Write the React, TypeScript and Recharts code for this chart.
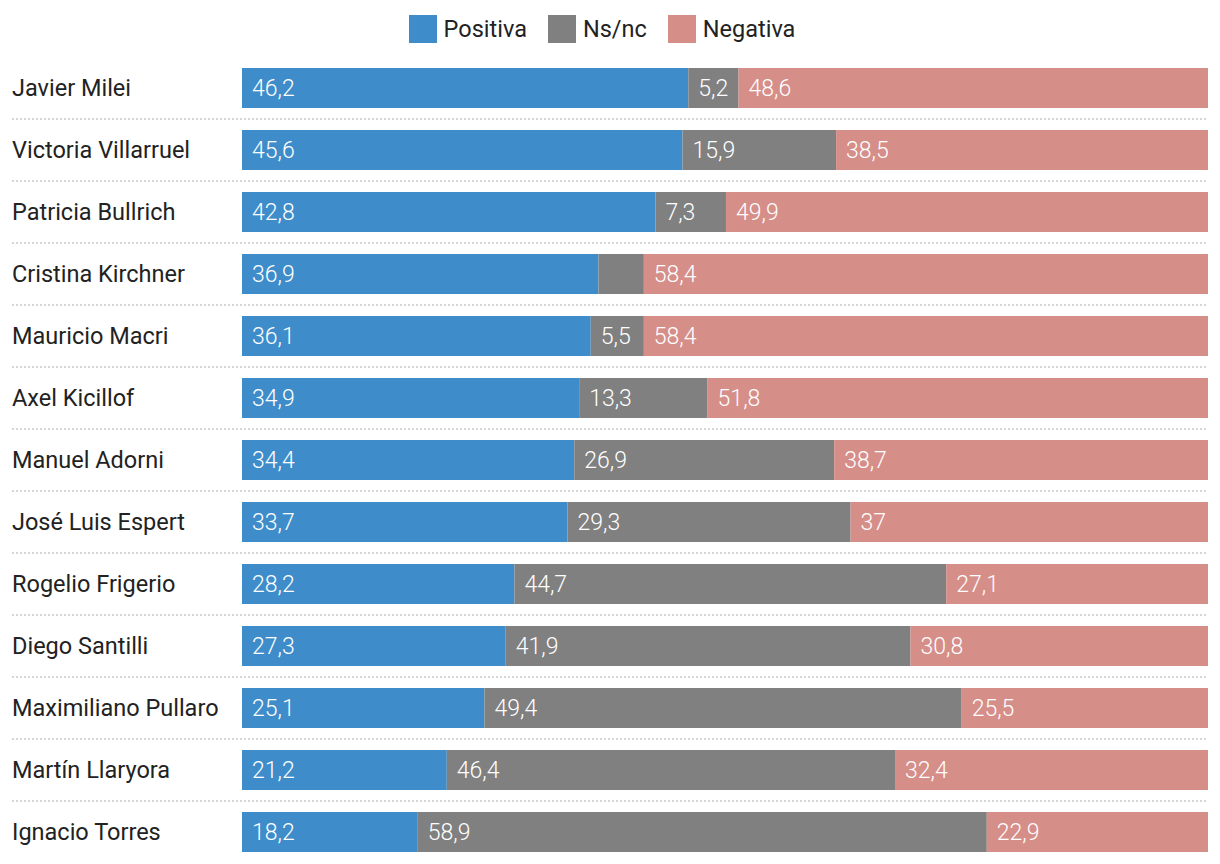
import { BarChart, Bar, XAxis, YAxis, Legend, LabelList } from 'recharts';

const names = [
    'Javier Milei',
    'Victoria Villarruel',
    'Patricia Bullrich',
    'Cristina Kirchner',
    'Mauricio Macri',
    'Axel Kicillof',
    'Manuel Adorni',
    'José Luis Espert',
    'Rogelio Frigerio',
    'Diego Santilli',
    'Maximiliano Pullaro',
    'Martín Llaryora',
    'Ignacio Torres',
];
const positiva = [46.2, 45.6, 42.8, 36.9, 36.1, 34.9, 34.4, 33.7, 28.2, 27.3, 25.1, 21.2, 18.2];
const nsnc = [5.2, 15.9, 7.3, 4.7, 5.5, 13.3, 26.9, 29.3, 44.7, 41.9, 49.4, 46.4, 58.9];
const negativa = [48.6, 38.5, 49.9, 58.4, 58.4, 51.8, 38.7, 37, 27.1, 30.8, 25.5, 32.4, 22.9];
const legendOrder = ['Positiva', 'Ns/nc', 'Negativa'];

const data = names.map((name, i) => ({
    name,
    positiva: positiva[i],
    nsnc: nsnc[i],
    negativa: negativa[i],
}));

const COLORS = { positiva: '#3E8DCA', nsnc: '#808080', negativa: '#D68E89' };
const FONT = 'Roboto, "Noto Sans", sans-serif';

const fmt = (v: any) => (typeof v === 'number' && v >= 5 ? String(v).replace('.', ',') : '');

function NameTick(props: any) {
    const { y, payload, index } = props;
    return (
        <g>
            <text x={12} y={y} dy={8} textAnchor="start" fill="#222" fontSize={23.5} fontFamily={FONT}>
                {payload.value}
            </text>
            {index < names.length - 1 && (
                <line x1={12} x2={1208} y1={y + 31} y2={y + 31} stroke="#d6d6d6" strokeWidth={2} strokeDasharray="2 2" />
            )}
        </g>
    );
}

function LegendContent(props: any) {
    const items = [...(props.payload || [])].sort(
        (a: any, b: any) => legendOrder.indexOf(a.value) - legendOrder.indexOf(b.value)
    );
    return (
        <div style={{ display: 'flex', justifyContent: 'center', gap: 21, fontFamily: FONT, fontSize: 23.5, color: '#222', height: 29 }}>
            {items.map((p: any) => (
                <div key={p.value} style={{ display: 'flex', alignItems: 'center' }}>
                    <span style={{ width: 28, height: 28, background: p.color, display: 'inline-block', marginRight: 7 }} />
                    <span>{p.value}</span>
                </div>
            ))}
        </div>
    );
}

export default function App() {
    return (
        <div style={{ position: 'absolute', left: 0, top: 0, background: '#fff' }}>
            <BarChart
                width={1220}
                height={864}
                data={data}
                layout="vertical"
                margin={{ top: 28, right: 12, bottom: 1, left: 12 }}
                barSize={40}
            >
                <XAxis type="number" domain={[0, 100]} hide />
                <YAxis
                    type="category"
                    dataKey="name"
                    width={230}
                    axisLine={false}
                    tickLine={false}
                    tick={<NameTick />}
                    interval={0}
                />
                <Legend
                    verticalAlign="top"
                    align="center"
                    content={<LegendContent />}
                    wrapperStyle={{ top: 14, left: -8, width: 1220, height: 29 }}
                />
                <Bar dataKey="positiva" name="Positiva" stackId="a" fill={COLORS.positiva} isAnimationActive={false}>
                    <LabelList dataKey="positiva" position="insideLeft" offset={10} fill="#fff" fontSize={23} fontWeight={300} fontFamily={FONT} formatter={fmt} />
                </Bar>
                <Bar dataKey="nsnc" name="Ns/nc" stackId="a" fill={COLORS.nsnc} isAnimationActive={false}>
                    <LabelList dataKey="nsnc" position="insideLeft" offset={10} fill="#fff" fontSize={23} fontWeight={300} fontFamily={FONT} formatter={fmt} />
                </Bar>
                <Bar dataKey="negativa" name="Negativa" stackId="a" fill={COLORS.negativa} isAnimationActive={false}>
                    <LabelList dataKey="negativa" position="insideLeft" offset={10} fill="#fff" fontSize={23} fontWeight={300} fontFamily={FONT} formatter={fmt} />
                </Bar>
            </BarChart>
        </div>
    );
}
